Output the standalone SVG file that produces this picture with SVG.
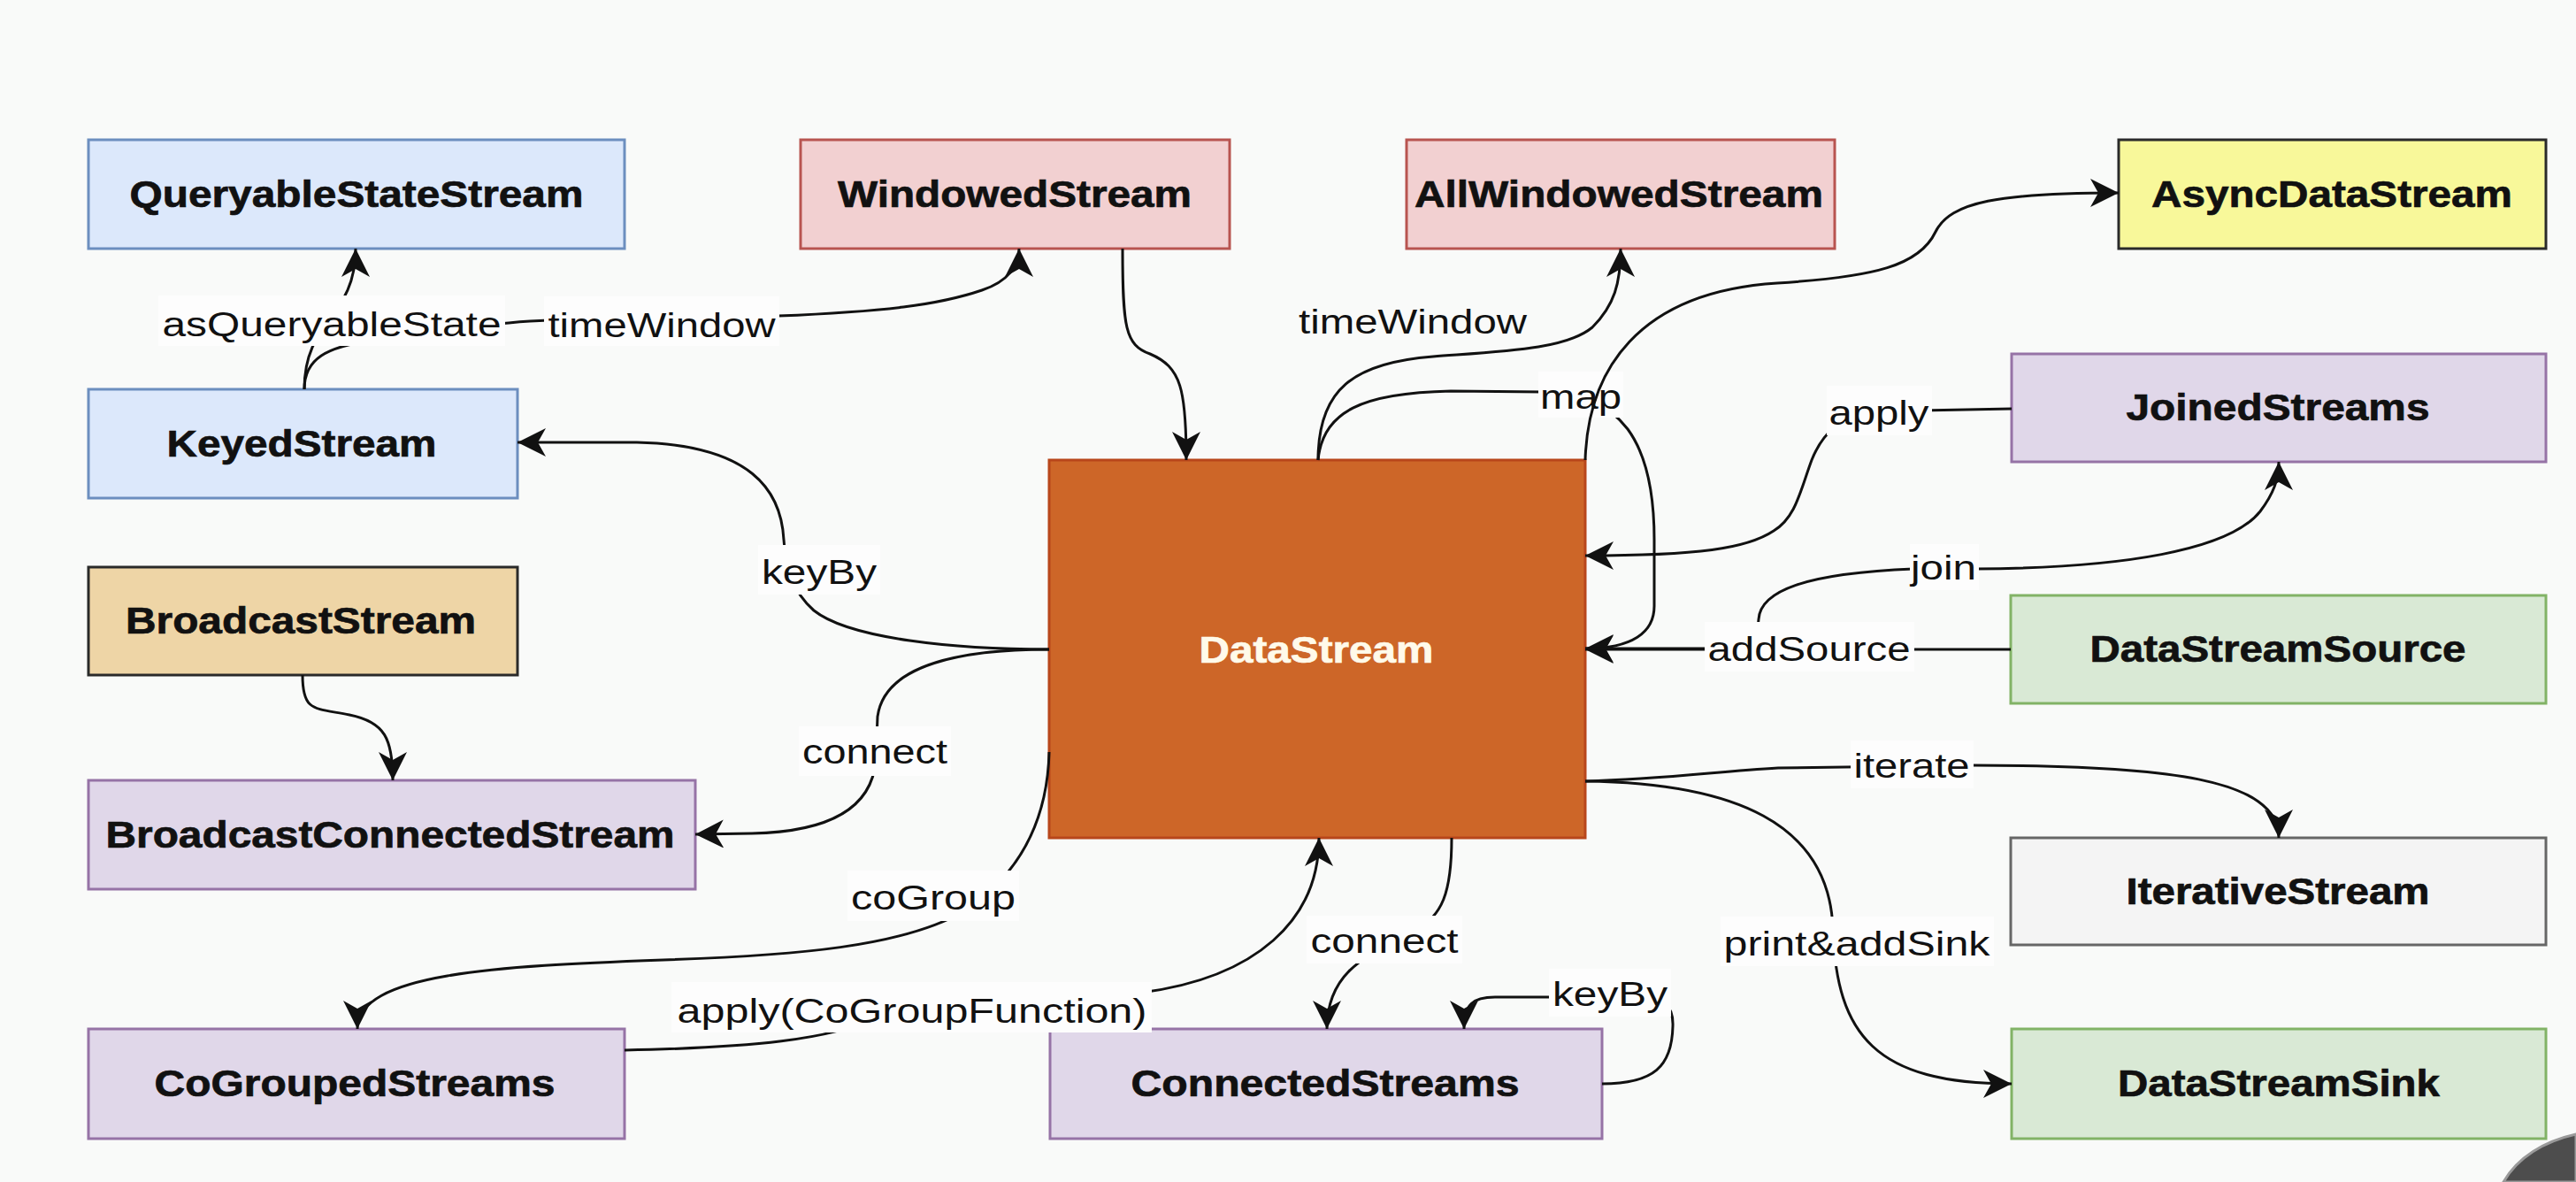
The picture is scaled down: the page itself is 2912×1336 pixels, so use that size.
<svg xmlns="http://www.w3.org/2000/svg" width="2912" height="1336" viewBox="0 0 2912 1336">
<style>
.n rect{stroke-width:3}
.n text{font-family:"Liberation Sans",Arial,sans-serif;font-weight:bold;font-size:42px;fill:#111;stroke:#111;stroke-width:0.7;text-anchor:middle}
.blue{fill:#dce8fb;stroke:#6c8ebf}
.red{fill:#f2d0d1;stroke:#b85450}
.yellow{fill:#f8f89a;stroke:#2a2a2a}
.purple{fill:#e0d7e9;stroke:#9673a6}
.green{fill:#d9e9d5;stroke:#82b366}
.gray{fill:#f4f4f4;stroke:#666666}
.tan{fill:#eed5a6;stroke:#2a2a2a}
.orange{fill:#cd6628;stroke:#b8461b}
.e{fill:none;stroke:#111;stroke-width:3;marker-end:url(#arr)}
.lb{fill:#fdfdfd}
.lt{font-family:"Liberation Sans",Arial,sans-serif;font-size:38px;fill:#111;text-anchor:middle}
</style>
<defs>
<marker id="arr" markerUnits="userSpaceOnUse" markerWidth="36" markerHeight="36" refX="32" refY="16" orient="auto">
<path d="M0,0 L32,16 L0,32 L9,16 Z" fill="#111"/>
</marker>
</defs>
<rect x="0" y="0" width="2912" height="1336" fill="#f9faf9"/>

<g id="nodes">
<g id="QueryableStateStream" class="n"><rect class="blue" x="100" y="158" width="606" height="123"/><text x="403" y="234" textLength="513" lengthAdjust="spacingAndGlyphs">QueryableStateStream</text></g>
<g id="WindowedStream" class="n"><rect class="red" x="905" y="158" width="485" height="123"/><text x="1147" y="234" textLength="400" lengthAdjust="spacingAndGlyphs">WindowedStream</text></g>
<g id="AllWindowedStream" class="n"><rect class="red" x="1590" y="158" width="484" height="123"/><text x="1830" y="234" textLength="462" lengthAdjust="spacingAndGlyphs">AllWindowedStream</text></g>
<g id="AsyncDataStream" class="n"><rect class="yellow" x="2395" y="158" width="483" height="123"/><text x="2636" y="234" textLength="408" lengthAdjust="spacingAndGlyphs">AsyncDataStream</text></g>
<g id="JoinedStreams" class="n"><rect class="purple" x="2274" y="400" width="604" height="122"/><text x="2575" y="475" textLength="343" lengthAdjust="spacingAndGlyphs">JoinedStreams</text></g>
<g id="KeyedStream" class="n"><rect class="blue" x="100" y="440" width="485" height="123"/><text x="341" y="516" textLength="305" lengthAdjust="spacingAndGlyphs">KeyedStream</text></g>
<g id="DataStream" class="n"><rect class="orange" x="1186" y="520" width="606" height="427"/><text x="1488" y="749" textLength="265" lengthAdjust="spacingAndGlyphs" style="fill:#fffaea;stroke:#fffaea">DataStream</text></g>
<g id="BroadcastStream" class="n"><rect class="tan" x="100" y="641" width="485" height="122"/><text x="340" y="716" textLength="396" lengthAdjust="spacingAndGlyphs">BroadcastStream</text></g>
<g id="BroadcastConnectedStream" class="n"><rect class="purple" x="100" y="882" width="686" height="123"/><text x="441" y="958" textLength="643" lengthAdjust="spacingAndGlyphs">BroadcastConnectedStream</text></g>
<g id="DataStreamSource" class="n"><rect class="green" x="2273" y="673" width="605" height="122"/><text x="2575" y="748" textLength="425" lengthAdjust="spacingAndGlyphs">DataStreamSource</text></g>
<g id="IterativeStream" class="n"><rect class="gray" x="2273" y="947" width="605" height="121"/><text x="2575" y="1022" textLength="343" lengthAdjust="spacingAndGlyphs">IterativeStream</text></g>
<g id="DataStreamSink" class="n"><rect class="green" x="2274" y="1163" width="604" height="124"/><text x="2576" y="1239" textLength="364" lengthAdjust="spacingAndGlyphs">DataStreamSink</text></g>
<g id="ConnectedStreams" class="n"><rect class="purple" x="1187" y="1163" width="624" height="124"/><text x="1498" y="1239" textLength="439" lengthAdjust="spacingAndGlyphs">ConnectedStreams</text></g>
<g id="CoGroupedStreams" class="n"><rect class="purple" x="100" y="1163" width="606" height="124"/><text x="401" y="1239" textLength="453" lengthAdjust="spacingAndGlyphs">CoGroupedStreams</text></g>
</g>

<g id="connectors">
<path class="e" d="M344,440 C344,360 402,360 402,281"/>
<path class="e" d="M344,440 C344,405 370,392 420,385 C480,376 560,364 620,362 L880,357 C1000,352 1060,345 1110,328 C1140,318 1152,300 1152,281"/>
<rect class="lb" x="179" y="334" width="392" height="57"/>
<text class="lt" x="375" y="380" textLength="383" lengthAdjust="spacingAndGlyphs">asQueryableState</text>
<rect class="lb" x="615" y="335" width="266" height="56"/>
<text class="lt" x="748" y="381" textLength="257" lengthAdjust="spacingAndGlyphs">timeWindow</text>

<path class="e" d="M1269,281 C1269,370 1272,390 1300,400 C1335,415 1341,440 1341,520"/>

<path class="e" d="M1490,520 C1490,440 1530,410 1620,403 C1700,397 1770,395 1800,370 C1825,345 1832,320 1832,281"/>
<text class="lt" x="1597" y="377" textLength="258" lengthAdjust="spacingAndGlyphs">timeWindow</text>

<path class="e" d="M1490,520 C1495,465 1540,444 1640,442 L1745,443 C1800,445 1820,460 1840,485 C1862,515 1870,560 1870,610 L1870,685 C1870,715 1845,733 1792,733"/>
<rect class="lb" x="1739" y="420" width="96" height="52"/>
<text class="lt" x="1787" y="462" textLength="92" lengthAdjust="spacingAndGlyphs">map</text>

<path class="e" d="M1792,520 C1795,420 1850,330 2009,320 C2120,313 2170,300 2188,262 C2205,228 2260,218 2395,218"/>

<path class="e" d="M2274,462 L2120,465 C2080,470 2060,490 2048,520 C2035,555 2030,585 2005,600 C1975,620 1920,628 1792,628"/>
<rect class="lb" x="2065" y="436" width="119" height="56"/>
<text class="lt" x="2124" y="480" textLength="113" lengthAdjust="spacingAndGlyphs">apply</text>

<path class="e" d="M2273,734 L1792,734"/>
<path class="e" d="M1792,733 L1960,733 C1980,733 1987,720 1988,700 C1990,668 2040,648 2163,643 L2233,643 C2400,642 2520,622 2555,578 C2570,558 2576,542 2576,522"/>
<rect class="lb" x="1927" y="703" width="237" height="56"/>
<text class="lt" x="2045" y="747" textLength="229" lengthAdjust="spacingAndGlyphs">addSource</text>
<rect class="lb" x="2159" y="615" width="78" height="52"/>
<text class="lt" x="2197" y="655" textLength="74" lengthAdjust="spacingAndGlyphs">join</text>

<path class="e" d="M1792,883 C1880,881 1940,872 2010,868 L2230,865 C2450,865 2576,880 2576,947"/>
<rect class="lb" x="2092" y="837" width="139" height="54"/>
<text class="lt" x="2161" y="879" textLength="131" lengthAdjust="spacingAndGlyphs">iterate</text>

<path class="e" d="M1792,883 C1960,885 2068,930 2072,1050 C2076,1170 2120,1225 2274,1225"/>
<rect class="lb" x="1945" y="1036" width="309" height="56"/>
<text class="lt" x="2099" y="1080" textLength="301" lengthAdjust="spacingAndGlyphs">print&amp;addSink</text>

<path class="e" d="M1186,734 C1080,734 960,722 920,690 C895,668 888,640 886,610 C883,555 850,503 720,500 L585,500"/>
<rect class="lb" x="857" y="616" width="138" height="56"/>
<text class="lt" x="926" y="660" textLength="130" lengthAdjust="spacingAndGlyphs">keyBy</text>

<path class="e" d="M1186,734 C1090,734 1000,750 992,810 L990,860 C986,905 950,940 850,942 L786,943"/>
<rect class="lb" x="903" y="821" width="172" height="56"/>
<text class="lt" x="989" y="863" textLength="164" lengthAdjust="spacingAndGlyphs">connect</text>

<path class="e" d="M342,763 C342,805 355,800 395,808 C435,816 444,835 444,882"/>

<path class="e" d="M1186,850 C1184,930 1150,990 1090,1030 C1020,1070 900,1080 750,1085 C560,1092 404,1100 404,1163"/>
<rect class="lb" x="958" y="984" width="194" height="57"/>
<text class="lt" x="1055" y="1028" textLength="186" lengthAdjust="spacingAndGlyphs">coGroup</text>

<path class="e" d="M706,1187 C850,1184 940,1175 990,1150 L1290,1122 C1420,1105 1491,1040 1491,947"/>
<rect class="lb" x="759" y="1110" width="543" height="57"/>
<text class="lt" x="1031" y="1156" textLength="531" lengthAdjust="spacingAndGlyphs">apply(CoGroupFunction)</text>

<path class="e" d="M1641,947 C1641,1010 1630,1035 1600,1052 C1560,1075 1500,1090 1500,1163"/>
<rect class="lb" x="1477" y="1035" width="176" height="54"/>
<text class="lt" x="1565" y="1077" textLength="167" lengthAdjust="spacingAndGlyphs">connect</text>

<path class="e" d="M1811,1225 C1870,1225 1890,1205 1891,1160 C1892,1135 1880,1128 1850,1127 L1690,1127 C1665,1127 1655,1135 1655,1163"/>
<rect class="lb" x="1751" y="1095" width="138" height="54"/>
<text class="lt" x="1820" y="1137" textLength="130" lengthAdjust="spacingAndGlyphs">keyBy</text>
</g>

<path d="M2830,1336 C2846,1308 2876,1290 2912,1282 L2912,1336 Z" fill="#4d4d4d" stroke="#9a9a9a" stroke-width="3"/>
</svg>
